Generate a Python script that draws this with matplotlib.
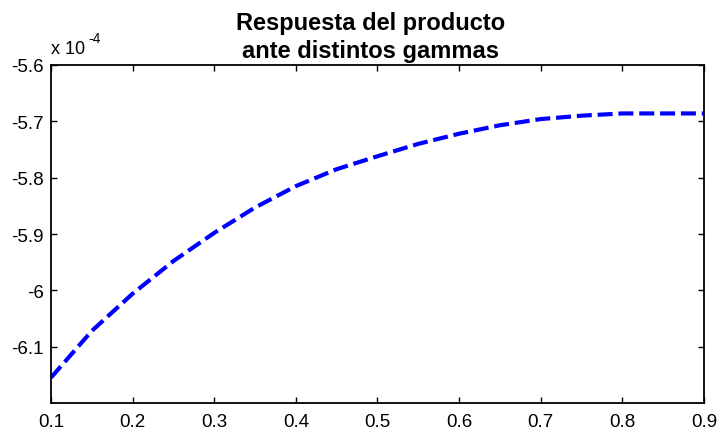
import matplotlib
matplotlib.use("Agg")
import matplotlib.pyplot as plt

plt.rcParams["font.family"] = ["Liberation Sans", "DejaVu Sans"]

# gamma values and response (in units of 1e-4)
gammas = [0.10, 0.15, 0.20, 0.25, 0.30, 0.35, 0.40, 0.45, 0.50,
          0.55, 0.60, 0.65, 0.70, 0.75, 0.80, 0.85, 0.90]
respuesta = [-6.155, -6.072, -6.006, -5.948, -5.898, -5.853, -5.815, -5.785, -5.762,
             -5.740, -5.722, -5.707, -5.696, -5.690, -5.686, -5.686, -5.686]

xticks = [0.1, 0.2, 0.3, 0.4, 0.5, 0.6, 0.7, 0.8, 0.9]
yticks = [-6.1, -6.0, -5.9, -5.8, -5.7, -5.6]
ylabels = ["-6.1", "-6", "-5.9", "-5.8", "-5.7", "-5.6"]

fig = plt.figure(figsize=(7.21, 4.31), dpi=100)
ax = fig.add_axes([0.0707, 0.0626, 0.9057, 0.7843])

ax.plot(gammas, respuesta, color="#0000ff", linewidth=3.0, linestyle=(0, (3.6, 1.4)))

ax.set_xlim(0.1, 0.9)
ax.set_ylim(-6.2, -5.6)
ax.set_xticks(xticks)
ax.set_xticklabels([f"{t:g}" for t in xticks])
ax.set_yticks(yticks)
ax.set_yticklabels(ylabels)
ax.tick_params(direction="in", top=True, right=True, length=4, width=1,
               labelsize=13.5, pad=7)
ax.tick_params(axis="y", pad=5)
for s in ax.spines.values():
    s.set_linewidth(1.3)

ax.set_title("Respuesta del producto\nante distintos gammas", fontsize=17,
             fontweight="bold", linespacing=1.25, pad=6, x=0.49)
ax.text(0.0, 1.025, "x 10", transform=ax.transAxes, fontsize=13,
        ha="left", va="bottom")
ax.text(0.057, 1.06, "-4", transform=ax.transAxes, fontsize=10,
        ha="left", va="bottom")

fig.savefig("out.png", dpi=100)
